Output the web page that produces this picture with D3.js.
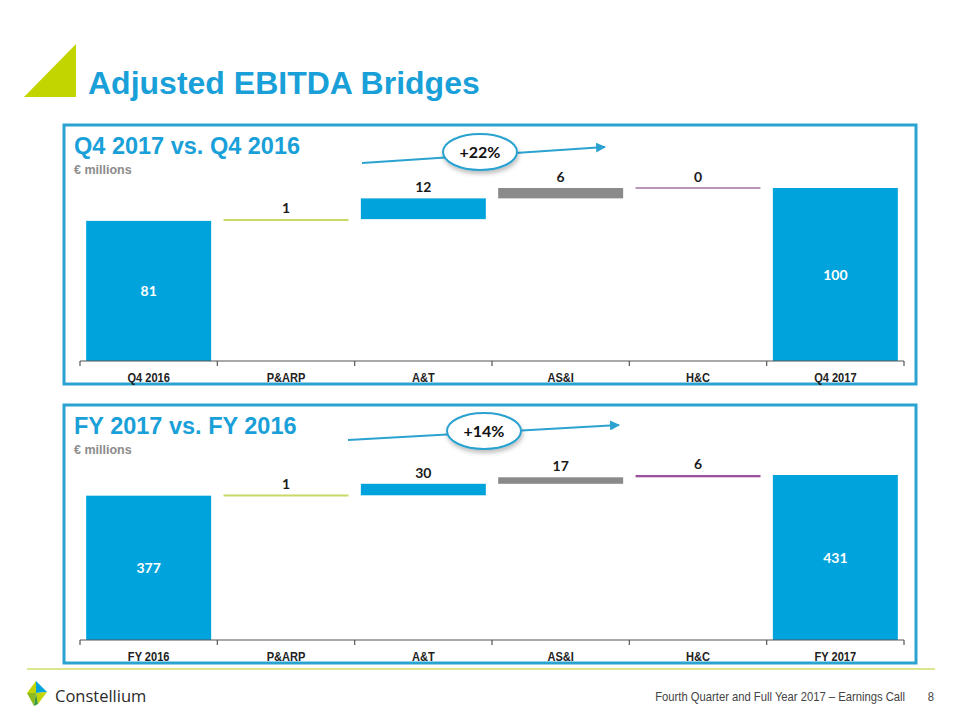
<!DOCTYPE html>
<html>
<head>
<meta charset="utf-8">
<script src="https://cdn.jsdelivr.net/npm/d3@7"></script>
<style>
  html, body { margin: 0; padding: 0; background: #ffffff; }
  svg { display: block; }
</style>
</head>
<body>
<div id="chart"></div>
<script>
// ---------- DATA ----------
const q4Categories = ["Q4 2016", "P&ARP", "A&T", "AS&I", "H&C", "Q4 2017"];
const q4Values = [81, 1, 12, 6, 0, 100];
const q4Growth = "+22%";

const fyCategories = ["FY 2016", "P&ARP", "A&T", "AS&I", "H&C", "FY 2017"];
const fyValues = [377, 1, 30, 17, 6, 431];
const fyGrowth = "+14%";

const stepKinds = ["total", "delta", "delta", "delta", "delta", "total"];

// ---------- STYLE ----------
const BLUE = "#00a3db";
const TITLE_BLUE = "#1aa0d8";
const BORDER = "#2ba2d0";
const GREEN = "#c3d500";
const q4Colors = [BLUE, "#cad866", BLUE, "#8a8a8a", "#b995ba", BLUE];
const fyColors = [BLUE, "#cad866", BLUE, "#8a8a8a", "#9c4f9c", BLUE];

const W = 960, H = 720;
const svg = d3.select("#chart").append("svg").attr("width", W).attr("height", H);

const defs = svg.append("defs");
const sh = defs.append("filter").attr("id", "shadow").attr("x", "-30%").attr("y", "-30%").attr("width", "160%").attr("height", "180%");
sh.append("feDropShadow").attr("dx", 1).attr("dy", 3).attr("stdDeviation", 2).attr("flood-color", "#000").attr("flood-opacity", 0.25);
const mk = defs.append("marker").attr("id", "arrow").attr("viewBox", "0 0 10 10")
  .attr("refX", 9).attr("refY", 5).attr("markerWidth", 5).attr("markerHeight", 5).attr("orient", "auto");
mk.append("path").attr("d", "M0,0 L10,5 L0,10 Z").attr("fill", BORDER);

// ---------- HEADER ----------
svg.append("polygon").attr("points", "24,97 76,44 76,97").attr("fill", GREEN);
svg.append("text").attr("x", 88).attr("y", 94)
  .attr("font-family", "Liberation Sans, Arial, sans-serif").attr("font-weight", "bold")
  .attr("font-size", 32).attr("fill", TITLE_BLUE).text("Adjusted EBITDA Bridges");

// ---------- PANEL ----------
function drawPanel(cfg) {
  const { top, bottom, baseline, yTop, title, categories, values, colors, growth, arrow, ell } = cfg;
  const g = svg.append("g");
  g.append("rect").attr("x", 64).attr("y", top).attr("width", 852).attr("height", bottom - top)
    .attr("fill", "none").attr("stroke", BORDER).attr("stroke-width", 3);

  g.append("text").attr("x", 74).attr("y", top + 29)
    .attr("font-family", "Liberation Sans, Arial, sans-serif").attr("font-weight", "bold")
    .attr("font-size", 23.5).attr("fill", TITLE_BLUE).text(title);
  g.append("text").attr("x", 74).attr("y", top + 49)
    .attr("font-family", "Liberation Sans, Arial, sans-serif").attr("font-weight", "bold")
    .attr("font-size", 12.5).attr("fill", "#8c8c8c").text("€ millions");

  // waterfall computation
  let running = 0;
  const steps = values.map((v, i) => {
    let s, e;
    if (stepKinds[i] === "total") { s = 0; e = v; running = v; }
    else { s = running; e = running + v; running = e; }
    return { cat: categories[i], v, s, e, kind: stepKinds[i], color: colors[i] };
  });

  const x = d3.scaleBand().domain(categories).range([80, 904]).paddingInner(0.09).paddingOuter(0.045);
  const y = d3.scaleLinear().domain([0, d3.max(values)]).range([baseline, yTop]);

  // bars
  g.selectAll("rect.bar").data(steps).enter().append("rect").attr("class", "bar")
    .attr("x", d => x(d.cat)).attr("width", x.bandwidth())
    .attr("y", d => {
      const t = Math.min(y(d.s), y(d.e));
      const h = Math.abs(y(d.s) - y(d.e));
      return h < 2 ? t - (2 - h) / 2 : t;
    })
    .attr("height", d => Math.max(2, Math.abs(y(d.s) - y(d.e))))
    .attr("fill", d => d.color);

  // labels
  g.selectAll("text.val").data(steps).enter().append("text").attr("class", "val")
    .attr("x", d => x(d.cat) + x.bandwidth() / 2)
    .attr("y", d => d.kind === "total" ? (y(d.e) + baseline) / 2 + 5 : Math.min(y(d.s), y(d.e)) - 6)
    .attr("text-anchor", "middle")
    .attr("font-family", "Lato, 'Open Sans', sans-serif").attr("font-weight", "bold")
    .attr("font-size", 14)
    .attr("fill", d => d.kind === "total" ? "#ffffff" : "#1a1a1a")
    .text(d => d.v);

  // axis
  const ax = g.append("g").attr("transform", `translate(0,${baseline})`)
    .call(d3.axisBottom(x).tickSize(0).tickPadding(11));
  ax.select(".domain").attr("stroke", "#555").attr("stroke-width", 1.2).attr("d", `M${x.range()[0]},0H${x.range()[1]}`);
  ax.selectAll("text").attr("font-family", "Liberation Sans, Arial, sans-serif")
    .attr("font-weight", "bold").attr("font-size", 13.5).attr("fill", "#222")
    .attr("transform", "scale(0.82,1)");
  const bounds = d3.range(categories.length + 1).map(i => x.range()[0] + i * x.step());
  g.selectAll("line.tick").data(bounds).enter().append("line").attr("class", "tick")
    .attr("x1", d => d).attr("x2", d => d).attr("y1", baseline).attr("y2", baseline + 5)
    .attr("stroke", "#555").attr("stroke-width", 1.2);

  // growth arrow
  g.append("line").attr("x1", arrow[0]).attr("y1", arrow[1]).attr("x2", arrow[2]).attr("y2", arrow[3])
    .attr("stroke", BORDER).attr("stroke-width", 2).attr("marker-end", "url(#arrow)");
  g.append("ellipse").attr("cx", ell[0]).attr("cy", ell[1]).attr("rx", 37).attr("ry", 18)
    .attr("fill", "#fff").attr("stroke", BORDER).attr("stroke-width", 2).attr("filter", "url(#shadow)");
  g.append("text").attr("x", ell[0]).attr("y", ell[1] + 5.5).attr("text-anchor", "middle")
    .attr("font-family", "Lato, 'Open Sans', sans-serif").attr("font-weight", "bold")
    .attr("font-size", 16).attr("fill", "#111").text(growth);
}

drawPanel({ top: 125, bottom: 384, baseline: 361, yTop: 188, title: "Q4 2017 vs. Q4 2016",
  categories: q4Categories, values: q4Values, colors: q4Colors, growth: q4Growth,
  arrow: [362, 163, 605, 147], ell: [480, 152] });
drawPanel({ top: 405, bottom: 663, baseline: 640, yTop: 475, title: "FY 2017 vs. FY 2016",
  categories: fyCategories, values: fyValues, colors: fyColors, growth: fyGrowth,
  arrow: [348, 440, 619, 425], ell: [484, 431] });

// ---------- FOOTER ----------
svg.append("line").attr("x1", 27).attr("x2", 935).attr("y1", 669).attr("y2", 669)
  .attr("stroke", "#d2dc6a").attr("stroke-width", 1.5);
const logo = svg.append("g");
logo.append("polygon").attr("points", "36,681 27,693 36,693").attr("fill", "#c3d500");
logo.append("polygon").attr("points", "36,681 47,692 36,693").attr("fill", "#00a3db");
logo.append("polygon").attr("points", "27,693 36,693 34,706").attr("fill", "#8dbb1f");
logo.append("polygon").attr("points", "36,693 47,692 38,704").attr("fill", "#c3d500");
logo.append("polygon").attr("points", "34,706 36,693 38,704").attr("fill", "#3a9a3a");
svg.append("text").attr("x", 55).attr("y", 702)
  .attr("font-family", "'Open Sans', sans-serif").attr("font-size", 16.5).attr("fill", "#2a2a2a")
  .text("Constellium");
svg.append("g").attr("transform", "translate(905,701) scale(0.9,1)")
  .append("text").attr("text-anchor", "end")
  .attr("font-family", "Liberation Sans, Arial, sans-serif").attr("font-size", 12.5).attr("fill", "#444")
  .text("Fourth Quarter and Full Year 2017 – Earnings Call");
svg.append("g").attr("transform", "translate(934,701) scale(0.9,1)")
  .append("text").attr("text-anchor", "end")
  .attr("font-family", "Liberation Sans, Arial, sans-serif").attr("font-size", 12.5).attr("fill", "#444")
  .text("8");
</script>
</body>
</html>
